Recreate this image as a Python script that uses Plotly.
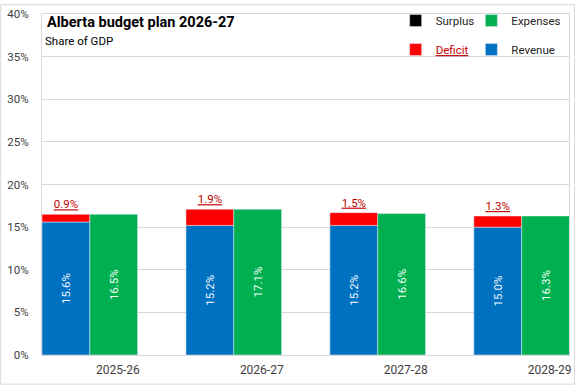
import plotly.graph_objects as go

categories = ["2025-26", "2026-27", "2027-28", "2028-29"]
revenue = [15.6, 15.2, 15.2, 15.0]
expenses = [16.5, 17.1, 16.6, 16.3]
deficit = [0.9, 1.9, 1.5, 1.3]
surplus = [0, 0, 0, 0]
y_ticks = [0, 5, 10, 15, 20, 25, 30, 35, 40]

BLUE = "#0070C0"
GREEN = "#00B050"
RED = "#FF0000"
DARKRED = "#C00000"
FONT = "Roboto"

W, H = 577, 385
L, R, T, B = 42, 6, 10, 30
PW, PH = W - L - R, H - T - B

fig = go.Figure()

fig.add_trace(go.Bar(
    x=categories, y=surplus, name="Surplus", marker_color="black",
    offsetgroup="a", legend="legend", legendgroup="s", legendrank=1, hoverinfo="skip",
))
fig.add_trace(go.Bar(
    x=categories, y=revenue, name="Revenue", marker_color=BLUE,
    offsetgroup="a", legend="legend2", legendgroup="r", legendrank=4,
    text=[f"{v:.1f}%" for v in revenue], textposition="inside",
    insidetextanchor="middle", textangle=-90,
    textfont=dict(color="#f2f8ff", size=11.5, family=FONT),
))
fig.add_trace(go.Bar(
    x=categories, y=deficit, base=revenue,
    name="<span style='color:#C00000'><u>Deficit</u></span>",
    marker_color=RED, offsetgroup="a", legend="legend", legendgroup="d", legendrank=3,
    text=[f"<u>{v:.1f}%</u>" for v in deficit], textposition="outside", textangle=0,
    textfont=dict(color=DARKRED, size=11.5, family=FONT), cliponaxis=False,
))
fig.add_trace(go.Bar(
    x=categories, y=expenses, name="Expenses", marker_color=GREEN,
    offsetgroup="b", legend="legend2", legendgroup="e", legendrank=2,
    text=[f"{v:.1f}%" for v in expenses], textposition="inside",
    insidetextanchor="middle", textangle=-90,
    textfont=dict(color="#f2fff6", size=11.5, family=FONT),
))

unit = 144.5
left_off = 48 / unit
x0 = -left_off
x1 = x0 + PW / unit

leg_y = 1 + 8 / PH

fig.update_layout(
    width=W, height=H,
    margin=dict(l=L, r=R, t=T, b=B),
    paper_bgcolor="white", plot_bgcolor="white",
    barmode="group", bargap=1 - 96 / unit, bargroupgap=0,
    font=dict(family=FONT, size=12, color="#404040"),
    xaxis=dict(
        type="category", range=[x0, x1], showgrid=False,
        showline=True, linecolor="#d9d9d9", linewidth=1, mirror=True,
        ticks="", ticklabelshift=28, ticklabelstandoff=4,
        tickfont=dict(size=12, color="#404040"),
    ),
    yaxis=dict(
        range=[0, 40], tickvals=y_ticks, ticktext=[f"{v}%" for v in y_ticks],
        showgrid=True, gridcolor="#d9d9d9", gridwidth=1,
        showline=True, linecolor="#d9d9d9", linewidth=1, mirror=True,
        zeroline=False, ticks="", ticklabelstandoff=10,
        tickfont=dict(size=11.5, color="#404040"),
    ),
    legend=dict(
        x=(397 - L) / PW, xanchor="left", y=leg_y, yanchor="top",
        bgcolor="rgba(0,0,0,0)", tracegroupgap=10, traceorder="grouped",
        font=dict(size=11.5, color="#262626"),
    ),
    legend2=dict(
        x=(473 - L) / PW, xanchor="left", y=leg_y, yanchor="top",
        bgcolor="rgba(0,0,0,0)", tracegroupgap=10, traceorder="grouped",
        font=dict(size=11.5, color="#262626"),
    ),
    annotations=[
        dict(text="<b>Alberta budget plan 2026-27</b>", xref="paper", yref="paper",
             x=(45 - L) / PW, y=1 - (8 - T) / PH, xanchor="left", yanchor="top",
             showarrow=False, font=dict(size=14.5, color="black", family=FONT)),
        dict(text="Share of GDP", xref="paper", yref="paper",
             x=(43 - L) / PW, y=1 - (28 - T) / PH, xanchor="left", yanchor="top",
             showarrow=False, font=dict(size=11.5, color="black", family=FONT)),
    ],
    shapes=[
        dict(type="rect", xref="paper", yref="paper",
             x0=(0.5 - L) / PW, x1=(W - 0.5 - L) / PW,
             y0=-(B - 0.5) / PH, y1=(PH + T - 0.5) / PH,
             line=dict(color="#d9d9d9", width=1), fillcolor="rgba(0,0,0,0)", layer="below"),
    ],
    showlegend=True,
)

fig.write_html("out.html", config={"displayModeBar": False},
               post_script="document.body.style.margin='0px';")
